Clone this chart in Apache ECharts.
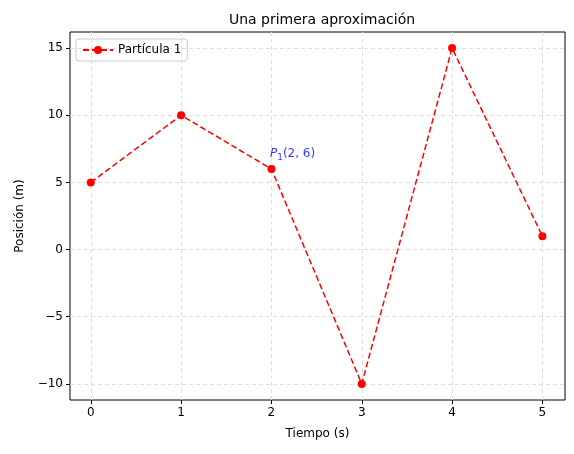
<!DOCTYPE html>
<html><head><meta charset="utf-8">
<script src="https://cdn.jsdelivr.net/npm/echarts@6/dist/echarts.min.js"></script>
<style>html,body{margin:0;padding:0;background:#fff}#c{width:574px;height:454px}</style>
</head><body><div id="c"></div>
<script>
const xs=[0,1,2,3,4,5];
const ys=[5,10,6,-10,15,1];
const yTicks=[-10,-5,0,5,10,15];
const xTicks=[0,1,2,3,4,5];
const annot=[[2,7.1]];
const ff='DejaVu Sans';
const chart=echarts.init(document.getElementById('c'));
chart.setOption({
  backgroundColor:'#fff',
  animation:false,
  title:{text:'Una primera aproximación',left:317,top:8,textAlign:'center',textStyle:{fontFamily:ff,fontSize:14,fontWeight:'normal',color:'#000'}},
  grid:{left:70,right:9,top:32,bottom:54,show:true,borderColor:'#000',borderWidth:1},
  legend:{left:76,top:39,itemWidth:30,itemHeight:10,padding:[5,6],borderColor:'#ccc',borderWidth:1,borderRadius:3,
    textStyle:{fontFamily:ff,fontSize:12,color:'#000'},data:['Partícula 1']},
  xAxis:{type:'value',min:-0.23,max:5.25,
    name:'Tiempo (s)',nameLocation:'middle',nameGap:28,nameTextStyle:{fontFamily:ff,fontSize:12,color:'#000'},
    axisLine:{show:false,onZero:false},
    axisTick:{show:true,inside:false,customValues:xTicks,length:4,lineStyle:{color:'#000'}},
    axisLabel:{customValues:xTicks,fontFamily:ff,fontSize:12,color:'#000',margin:7},
    splitLine:{show:true,lineStyle:{type:[4,3],color:'#ddd'}}},
  yAxis:{type:'value',min:-11.2,max:16.2,
    name:'Posición (m)',nameLocation:'middle',nameGap:44,nameRotate:90,nameTextStyle:{fontFamily:ff,fontSize:12,color:'#000'},
    axisLine:{show:false,onZero:false},
    axisTick:{show:true,inside:false,customValues:yTicks,length:4,lineStyle:{color:'#000'}},
    axisLabel:{customValues:yTicks,fontFamily:ff,fontSize:12,color:'#000',margin:7,
      formatter:v=>v<0?'\u2212'+(-v):String(v)},
    splitLine:{show:true,lineStyle:{type:[4,3],color:'#ddd'}}},
  series:[{name:'Partícula 1',type:'line',data:xs.map((x,i)=>[x,ys[i]]),
    symbol:'circle',symbolSize:8,color:'red',
    lineStyle:{type:[6,3],width:1.5,color:'red'},itemStyle:{color:'red'}},
   {name:'annot',type:'scatter',data:annot,symbolSize:1,itemStyle:{color:'rgba(0,0,0,0)'},silent:true,
    label:{show:true,position:'right',distance:-2,formatter:'{i|P}{s|1}{n|(2, 6)}',
        rich:{i:{fontFamily:ff,fontStyle:'italic',fontSize:12,color:'blue'},
              s:{fontFamily:ff,fontSize:9,color:'blue',padding:[6,0,0,0]},
              n:{fontFamily:ff,fontSize:12,color:'blue'}}}}]
});
</script></body></html>
